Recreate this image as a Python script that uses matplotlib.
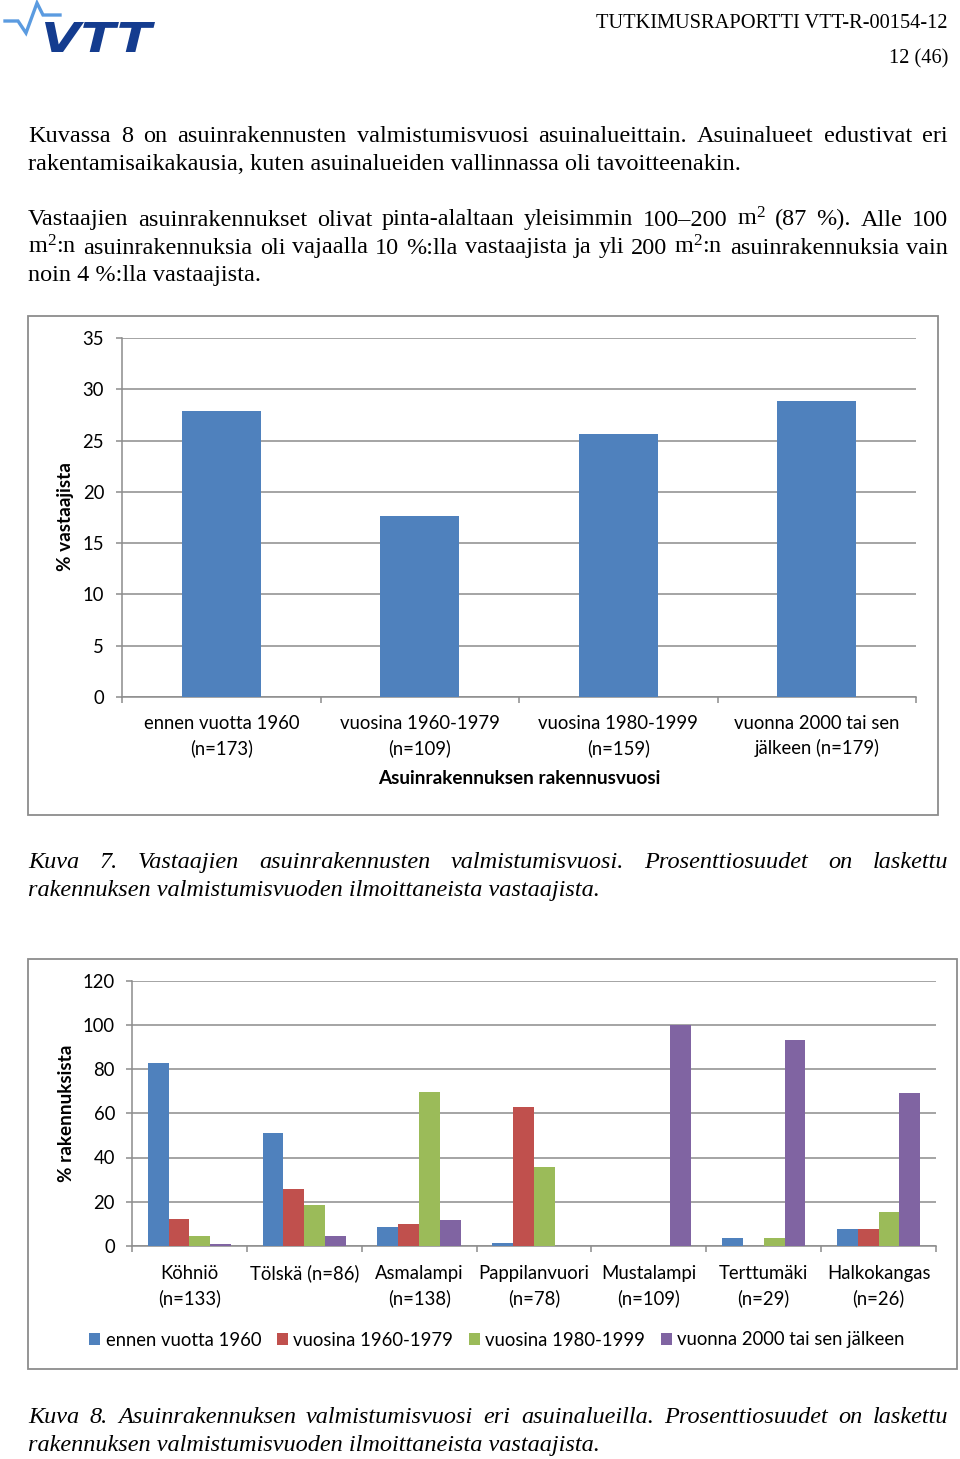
import matplotlib
matplotlib.use("Agg")
import matplotlib.pyplot as plt
import numpy as np
from matplotlib import transforms
from matplotlib.patches import Rectangle, PathPatch
from matplotlib.lines import Line2D
from matplotlib.textpath import TextPath
from matplotlib.font_manager import FontProperties

# ---------------- data ----------------
year_categories = ["ennen vuotta 1960\n(n=173)", "vuosina 1960-1979\n(n=109)",
                   "vuosina 1980-1999\n(n=159)", "vuonna 2000 tai sen\njälkeen (n=179)"]
year_values = [27.9, 17.6, 25.6, 28.9]
year_ticks = [0, 5, 10, 15, 20, 25, 30, 35]

area_categories = ["Köhniö\n(n=133)", "Tölskä (n=86)", "Asmalampi\n(n=138)",
                   "Pappilanvuori\n(n=78)", "Mustalampi\n(n=109)", "Terttumäki\n(n=29)",
                   "Halkokangas\n(n=26)"]
series_names = ["ennen vuotta 1960", "vuosina 1960-1979", "vuosina 1980-1999",
                "vuonna 2000 tai sen jälkeen"]
before_1960 = [82.7, 51.2, 8.7, 1.3, 0.0, 3.4, 7.7]
years_1960_1979 = [12.0, 25.6, 10.1, 62.8, 0.0, 0.0, 7.7]
years_1980_1999 = [4.5, 18.6, 69.6, 35.9, 0.0, 3.4, 15.4]
after_2000 = [0.8, 4.7, 11.6, 0.0, 100.0, 93.1, 69.2]
area_ticks = [0, 20, 40, 60, 80, 100, 120]

# ---------------- styles ----------------
W, H = 960, 1459
SERIF = "Liberation Serif"
SANS = "Lato"
GRID = "#8C8C8C"
COLORS = ["#4F81BD", "#C0504D", "#9BBB59", "#8064A2"]

plt.rcParams["font.family"] = SANS
plt.rcParams["mathtext.fontset"] = "custom"
plt.rcParams["mathtext.rm"] = SERIF
plt.rcParams["mathtext.it"] = SERIF + ":italic"
plt.rcParams["mathtext.bf"] = SERIF + ":bold"

fig = plt.figure(figsize=(W / 100, H / 100), dpi=100)
fig.patch.set_facecolor("white")
renderer = fig.canvas.get_renderer()


def fx(x):
    return x / W


def fy(y):
    return 1 - y / H


def measure(s, **kw):
    t = fig.text(0, 0, s, **kw)
    w = t.get_window_extent(renderer).width
    t.remove()
    return w


def fit(s, target, **kw):
    return 10 * target / measure(s, fontsize=10, **kw)


def text_line(s, x0, x1, ybase, justify, **kw):
    if justify:
        words = s.split(" ")
        widths = [measure(w, **kw) for w in words]
        gap = (x1 - x0 - sum(widths)) / (len(words) - 1)
        x = x0
        for w, wd in zip(words, widths):
            fig.text(fx(x), fy(ybase), w, ha="left", va="baseline", **kw)
            x += wd + gap
    else:
        fig.text(fx(x0), fy(ybase), s, ha="left", va="baseline", **kw)


# font sizes calibrated from the reference widths
fs_head = fit("TUTKIMUSRAPORTTI VTT-R-00154-12", 352, family=SERIF)
fs_body = fit("rakentamisaikakausia, kuten asuinalueiden vallinnassa oli tavoitteenakin.", 713, family=SERIF)
fs_cap = fit("rakennuksen valmistumisvuoden ilmoittaneista vastaajista.", 572, family=SERIF, style="italic")
fs_chart = fit("ennen vuotta 1960", 156, family=SANS)
fs_bold = fit("Asuinrakennuksen rakennusvuosi", 283, family=SANS, weight="bold")

# ---------------- logo ----------------
pulse_x = [5, 18, 26, 37, 43, 60]
pulse_y = [21, 21, 33, 3, 15, 15]
fig.add_artist(Line2D(pulse_x, [H - v for v in pulse_y], transform=transforms.IdentityTransform(),
                      color="#5B9BE0", lw=2.4, solid_joinstyle="miter"))
tp = TextPath((0, 0), "VTT", size=100,
              prop=FontProperties(family="DejaVu Sans", weight="bold", style="italic"))
ext = tp.get_extents()
logo_tr = (transforms.Affine2D().translate(-ext.x0, -ext.y0)
           .scale((155 - 45) / ext.width, (52 - 22) / ext.height).translate(45, H - 52))
fig.add_artist(PathPatch(tp, transform=logo_tr, facecolor="#143C8F", edgecolor="none"))

# ---------------- header ----------------
fig.text(fx(948), fy(28), "TUTKIMUSRAPORTTI VTT-R-00154-12", ha="right", va="baseline",
         family=SERIF, fontsize=fs_head)
fig.text(fx(948), fy(63), "12 (46)", ha="right", va="baseline", family=SERIF, fontsize=fs_head)

# ---------------- body ----------------
body = dict(family=SERIF, fontsize=fs_body)
text_line("Kuvassa 8 on asuinrakennusten valmistumisvuosi asuinalueittain. Asuinalueet edustivat eri",
          28, 948, 141.5, True, **body)
text_line("rakentamisaikakausia, kuten asuinalueiden vallinnassa oli tavoitteenakin.",
          28, 948, 169.5, False, **body)
text_line("Vastaajien asuinrakennukset olivat pinta-alaltaan yleisimmin 100–200 m$^2$ (87 %). Alle 100",
          28, 948, 225.5, True, **body)
text_line("m$^2$:n asuinrakennuksia oli vajaalla 10 %:lla vastaajista ja yli 200 m$^2$:n asuinrakennuksia vain",
          28, 948, 253.5, True, **body)
text_line("noin 4 %:lla vastaajista.", 28, 948, 281.5, False, **body)

# ---------------- chart 1 ----------------
fig.add_artist(Rectangle((fx(28), fy(815)), fx(938 - 28), (815 - 316) / H, transform=fig.transFigure,
                         fill=False, edgecolor=GRID, lw=1.3))
ax1 = fig.add_axes([fx(122), fy(697), fx(916 - 122), (697 - 338) / H])
x1 = np.arange(len(year_values))
ax1.bar(x1, year_values, width=0.4, color=COLORS[0], zorder=3)
ax1.set_xlim(-0.5, len(year_values) - 0.5)
ax1.set_ylim(0, 35)
ax1.set_yticks(year_ticks)
ax1.set_xticks(np.arange(-0.5, len(year_values), 1.0))
ax1.set_xticklabels([])
ax1.yaxis.grid(True, color=GRID, lw=1.1)
ax1.set_axisbelow(True)
for s in ["top", "right"]:
    ax1.spines[s].set_visible(False)
for s in ["left", "bottom"]:
    ax1.spines[s].set_color(GRID)
    ax1.spines[s].set_linewidth(1.1)
ax1.tick_params(axis="both", direction="out", length=4.3, color=GRID, width=1.1)
ax1.tick_params(axis="y", pad=8.6, labelsize=fs_chart)
tr1 = transforms.blended_transform_factory(ax1.transData, fig.transFigure)
for i, lab in enumerate(year_categories):
    l1, l2 = lab.split("\n")
    ax1.text(i, fy(729), l1, transform=tr1, ha="center", va="baseline", fontsize=fs_chart)
    ax1.text(i, fy(754), l2, transform=tr1, ha="center", va="baseline", fontsize=fs_chart)
fig.text(fx(519), fy(784), "Asuinrakennuksen rakennusvuosi", ha="center", va="baseline",
         fontsize=fs_bold, weight="bold")
fig.text(fx(66), fy(517), "% vastaajista", ha="center", va="center", rotation=90,
         fontsize=fs_bold, weight="bold")

# caption 1
cap = dict(family=SERIF, fontsize=fs_cap, style="italic")
text_line("Kuva 7. Vastaajien asuinrakennusten valmistumisvuosi. Prosenttiosuudet on laskettu",
          28, 948, 868, True, **cap)
text_line("rakennuksen valmistumisvuoden ilmoittaneista vastaajista.", 28, 948, 896, False, **cap)

# ---------------- chart 2 ----------------
fig.add_artist(Rectangle((fx(28), fy(1369)), fx(957 - 28), (1369 - 959) / H, transform=fig.transFigure,
                         fill=False, edgecolor=GRID, lw=1.3))
ax2 = fig.add_axes([fx(132), fy(1246), fx(936 - 132), (1246 - 980.5) / H])
series = [before_1960, years_1960_1979, years_1980_1999, after_2000]
x2 = np.arange(len(area_categories))
bw = 1 / 5.5
handles = []
for j, vals in enumerate(series):
    h = ax2.bar(x2 + (j - 1.5) * bw, vals, width=bw, color=COLORS[j], zorder=3)
    handles.append(h)
ax2.set_xlim(-0.5, len(area_categories) - 0.5)
ax2.set_ylim(0, 120)
ax2.set_yticks(area_ticks)
ax2.set_xticks(np.arange(-0.5, len(area_categories), 1.0))
ax2.set_xticklabels([])
ax2.yaxis.grid(True, color=GRID, lw=1.1)
ax2.set_axisbelow(True)
for s in ["top", "right"]:
    ax2.spines[s].set_visible(False)
for s in ["left", "bottom"]:
    ax2.spines[s].set_color(GRID)
    ax2.spines[s].set_linewidth(1.1)
ax2.tick_params(axis="both", direction="out", length=4.3, color=GRID, width=1.1)
ax2.tick_params(axis="y", pad=8.0, labelsize=fs_chart)
tr2 = transforms.blended_transform_factory(ax2.transData, fig.transFigure)
for i, lab in enumerate(area_categories):
    parts = lab.split("\n")
    ax2.text(i, fy(1279), parts[0], transform=tr2, ha="center", va="baseline", fontsize=fs_chart)
    if len(parts) > 1:
        ax2.text(i, fy(1304), parts[1], transform=tr2, ha="center", va="baseline", fontsize=fs_chart)
fig.text(fx(66), fy(1113), "% rakennuksista", ha="center", va="center", rotation=90,
         fontsize=fs_bold, weight="bold")
fig.legend(handles, series_names, loc="center", bbox_to_anchor=(fx(497), fy(1340)), ncol=4,
           frameon=False, fontsize=fs_chart, handlelength=0.58, handleheight=0.58,
           handletextpad=0.3, columnspacing=0.85, borderpad=0)

# caption 2
text_line("Kuva 8. Asuinrakennuksen valmistumisvuosi eri asuinalueilla. Prosenttiosuudet on laskettu",
          28, 948, 1423, True, **cap)
text_line("rakennuksen valmistumisvuoden ilmoittaneista vastaajista.", 28, 948, 1451, False, **cap)

fig.savefig("out.png", dpi=100, facecolor="white")
